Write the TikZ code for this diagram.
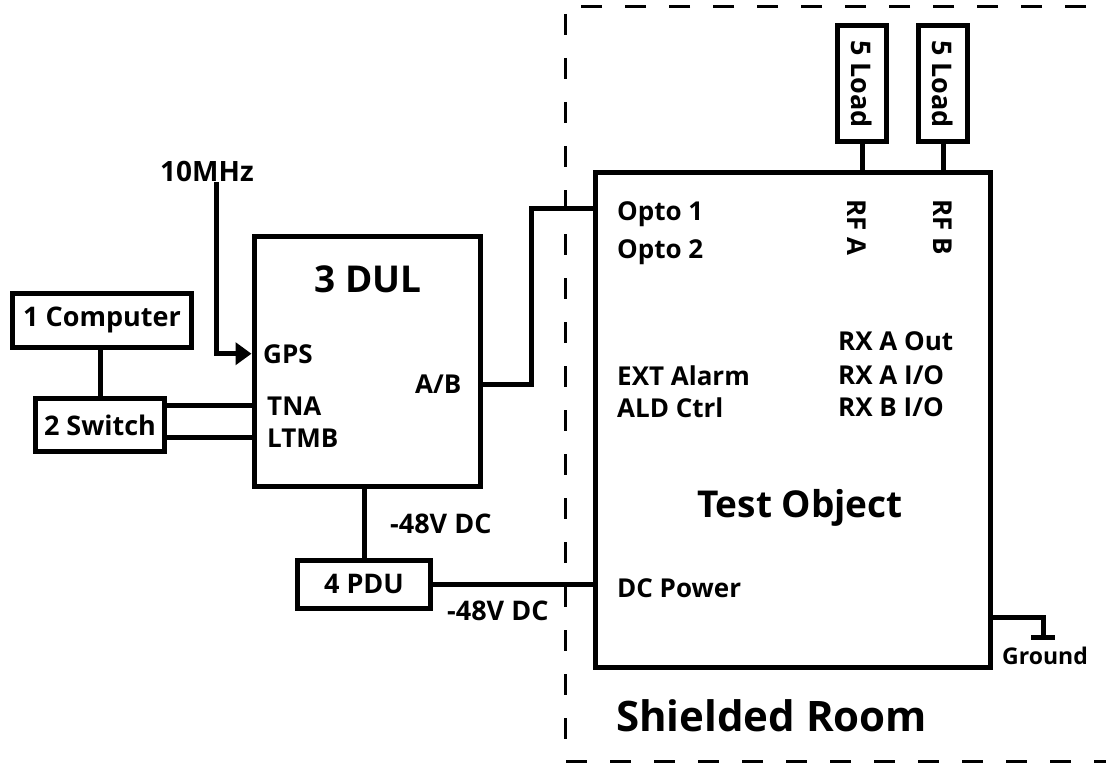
\documentclass[tikz,border=0pt]{standalone}
\usepackage{fontspec}
\setmainfont{Open Sans}
\usetikzlibrary{arrows.meta}

\begin{document}
\begin{tikzpicture}[
    x=1pt, y=-1pt,
    wire/.style={draw, line width=5pt},
    unit/.style={
        draw,
        line width=5pt,
        inner sep=0pt,
        font=\fontsize{27}{31}\selectfont\bfseries
    },
    port/.style={
        inner sep=0pt,
        anchor=base west,
        font=\fontsize{26}{30}\selectfont\bfseries
    },
    title/.style={
        inner sep=0pt,
        anchor=base,
        font=\fontsize{37}{42}\selectfont\bfseries
    },
    room/.style={draw, line width=3pt, dash pattern=on 21pt off 23pt}
]
\useasboundingbox (0,0) rectangle (1106,765);

% shielded room
\draw[room] (1130,7) -- (565,7) -- (565,761) -- (1130,761);
\node[title, anchor=base west, font=\fontsize{42}{48}\selectfont\bfseries] (roomlbl) at (616,731) {Shielded Room};

% units
\node[unit, minimum width=179pt, minimum height=54pt] (comp) at (102,320) {1 Computer};
\node[unit, minimum width=129pt, minimum height=53pt] (sw) at (100,425) {2 Switch};
\node[unit, minimum width=226pt, minimum height=250pt] (dul) at (367,361) {};
\node[unit, minimum width=133pt, minimum height=48pt] (pdu) at (364,584) {4 PDU};
\node[unit, minimum width=395pt, minimum height=495pt] (dut) at (793,420) {};
\node[unit, minimum width=49pt, minimum height=116pt] (loada) at (862,84) {\rotatebox{-90}{5 Load}};
\node[unit, minimum width=49pt, minimum height=116pt] (loadb) at (943,84) {\rotatebox{-90}{5 Load}};

% labels of 3 DUL
\node[title] (dultitle) at (368,292) {3 DUL};
\node[port, font=\fontsize{28}{32}\selectfont\bfseries] (mhz) at (160,182) {10MHz};
\node[port] (gps) at (263,363) {GPS};
\node[port] (tna) at (267,415) {TNA};
\node[port] (ltmb) at (267,447) {LTMB};
\node[port] (ab) at (415,393) {A/B};
\node[port, font=\fontsize{27}{30}\selectfont\bfseries] (dca) at (390,533) {-48V DC};
\node[port, font=\fontsize{27}{30}\selectfont\bfseries] (dcb) at (447,620) {-48V DC};

% labels of the test object
\node[title] (duttitle) at (800,517) {Test Object};
\node[port] (opto1) at (617,220) {Opto 1};
\node[port] (opto2) at (617,258) {Opto 2};
\node[port] (ext) at (617,385) {EXT Alarm};
\node[port] (ald) at (617,417) {ALD Ctrl};
\node[port] (rxaout) at (838,350) {RX A Out};
\node[port] (rxaio) at (838,384) {RX A I/O};
\node[port] (rxbio) at (838,416) {RX B I/O};
\node[port] (dcin) at (617,597) {DC Power};
\node[port, rotate=-90] (rfa) at (847,199) {RF A};
\node[port, rotate=-90] (rfb) at (933,199) {RF B};
\node[port, font=\fontsize{23}{26}\selectfont\bfseries] (gndlbl) at (1002,664) {Ground};

\coordinate (bend) at (531,300);
\coordinate (gndtap) at (1043,617);
\coordinate (gnd) at (1043,637);

% connectors
\draw[wire] (sw.north |- comp.south) -- (sw.north);
\draw[wire] (sw.east |- tna.west) -- (tna.west -| dul.west);
\draw[wire] (sw.east |- ltmb.west) -- (ltmb.west -| dul.west);
\draw[wire, -{Triangle[length=16pt,width=22pt]}] ([xshift=10pt]mhz.south) |- (gps.west -| dul.west);
\draw[wire] ([yshift=9pt]ab.base -| dul.east) -- ([yshift=9pt]ab.base -| bend)
    -- ([yshift=12pt]opto1.base west -| bend) -- ([yshift=12pt]opto1.base west -| dut.west);
\draw[wire] (pdu.north) -- (pdu.north |- dul.south);
\draw[wire] (pdu.east) -- (pdu.east -| dut.west);
\draw[wire] (loada.south) -- (loada.south |- dut.north);
\draw[wire] (loadb.south) -- (loadb.south |- dut.north);
\draw[wire] (gndtap -| dut.east) -- (gndtap) -- (gnd);
\draw[wire] ([xshift=-12pt]gnd) -- ([xshift=12pt]gnd);

\end{tikzpicture}
\end{document}
